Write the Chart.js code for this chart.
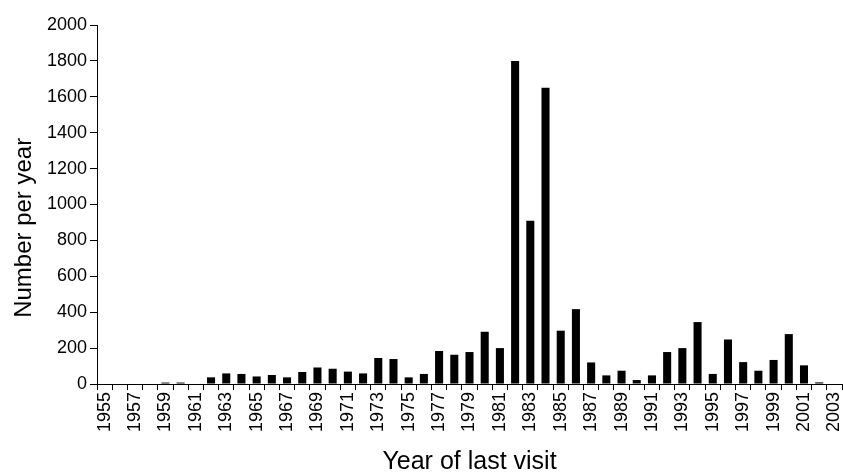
<!DOCTYPE html>
<html>
<head>
<meta charset="utf-8">
<script src="https://cdn.jsdelivr.net/npm/chart.js@4.4.0/dist/chart.umd.min.js"></script>
<style>
  html, body { margin: 0; padding: 0; background: #fff; }
  #wrap { width: 843px; height: 472px; position: relative; }
</style>
</head>
<body>
<div id="wrap"><canvas id="visitChart"></canvas></div>
<script>
// years on the x axis
const years = [
  '1955', '1956', '1957', '1958', '1959', '1960', '1961', '1962', '1963', '1964',
  '1965', '1966', '1967', '1968', '1969', '1970', '1971', '1972', '1973', '1974',
  '1975', '1976', '1977', '1978', '1979', '1980', '1981', '1982', '1983', '1984',
  '1985', '1986', '1987', '1988', '1989', '1990', '1991', '1992', '1993', '1994',
  '1995', '1996', '1997', '1998', '1999', '2000', '2001', '2002', '2003'
];

// number per year
const numberPerYear = [
  0, 0, 0, 0, 8, 8, 0, 37, 59, 56,
  42, 50, 37, 67, 92, 85, 69, 59, 145, 139,
  37, 56, 184, 163, 178, 291, 200, 1800, 910, 1650,
  297, 417, 120, 48, 74, 22, 48, 178, 200, 345,
  56, 248, 122, 74, 134, 278, 104, 9, 0
];

const yTicks = [0, 200, 400, 600, 800, 1000, 1200, 1400, 1600, 1800, 2000];

Chart.defaults.font.family = '"Liberation Sans", Arial, sans-serif';
Chart.defaults.color = '#000';

const ctx = document.getElementById('visitChart').getContext('2d');
new Chart(ctx, {
  type: 'bar',
  data: {
    labels: years,
    datasets: [{
      label: 'Number per year',
      data: numberPerYear,
      backgroundColor: '#000',
      borderWidth: 0,
      barPercentage: 0.53,
      categoryPercentage: 1
    }]
  },
  options: {
    responsive: true,
    maintainAspectRatio: false,
    animation: false,
    layout: {
      padding: { top: 25, right: 1, left: 0, bottom: 0 }
    },
    plugins: {
      legend: { display: false },
      tooltip: { enabled: false }
    },
    scales: {
      x: {
        offset: true,
        grid: {
          display: true,
          offset: true,
          drawOnChartArea: false,
          color: '#000',
          tickLength: 6
        },
        border: { color: '#000', width: 1 },
        ticks: {
          autoSkip: false,
          maxRotation: 90,
          minRotation: 90,
          padding: 2,
          font: { size: 18 },
          callback: function(value, index) {
            return index % 2 === 0 ? years[index] : '';
          }
        },
        title: {
          display: true,
          text: 'Year of last visit',
          font: { size: 25, lineHeight: 1 },
          padding: { top: 0, bottom: -3 }
        },
        afterFit: function(scale) {
          scale.height = 88;
          scale.paddingLeft = 0;
          scale.paddingRight = 0;
        }
      },
      y: {
        min: 0,
        max: 2000,
        afterBuildTicks: function(scale) {
          scale.ticks = yTicks.map(function(v) { return { value: v }; });
        },
        grid: {
          display: true,
          drawOnChartArea: false,
          color: '#000',
          tickLength: 7
        },
        border: { color: '#000', width: 1 },
        ticks: {
          padding: 3,
          font: { size: 18 },
          callback: function(value) {
            return String(value);
          }
        },
        title: {
          display: true,
          text: 'Number per year       ',
          font: { size: 24 },
          padding: { top: 10, bottom: 0 }
        },
        afterFit: function(scale) {
          scale.width = 97;
        }
      }
    }
  }
});
</script>
</body>
</html>
